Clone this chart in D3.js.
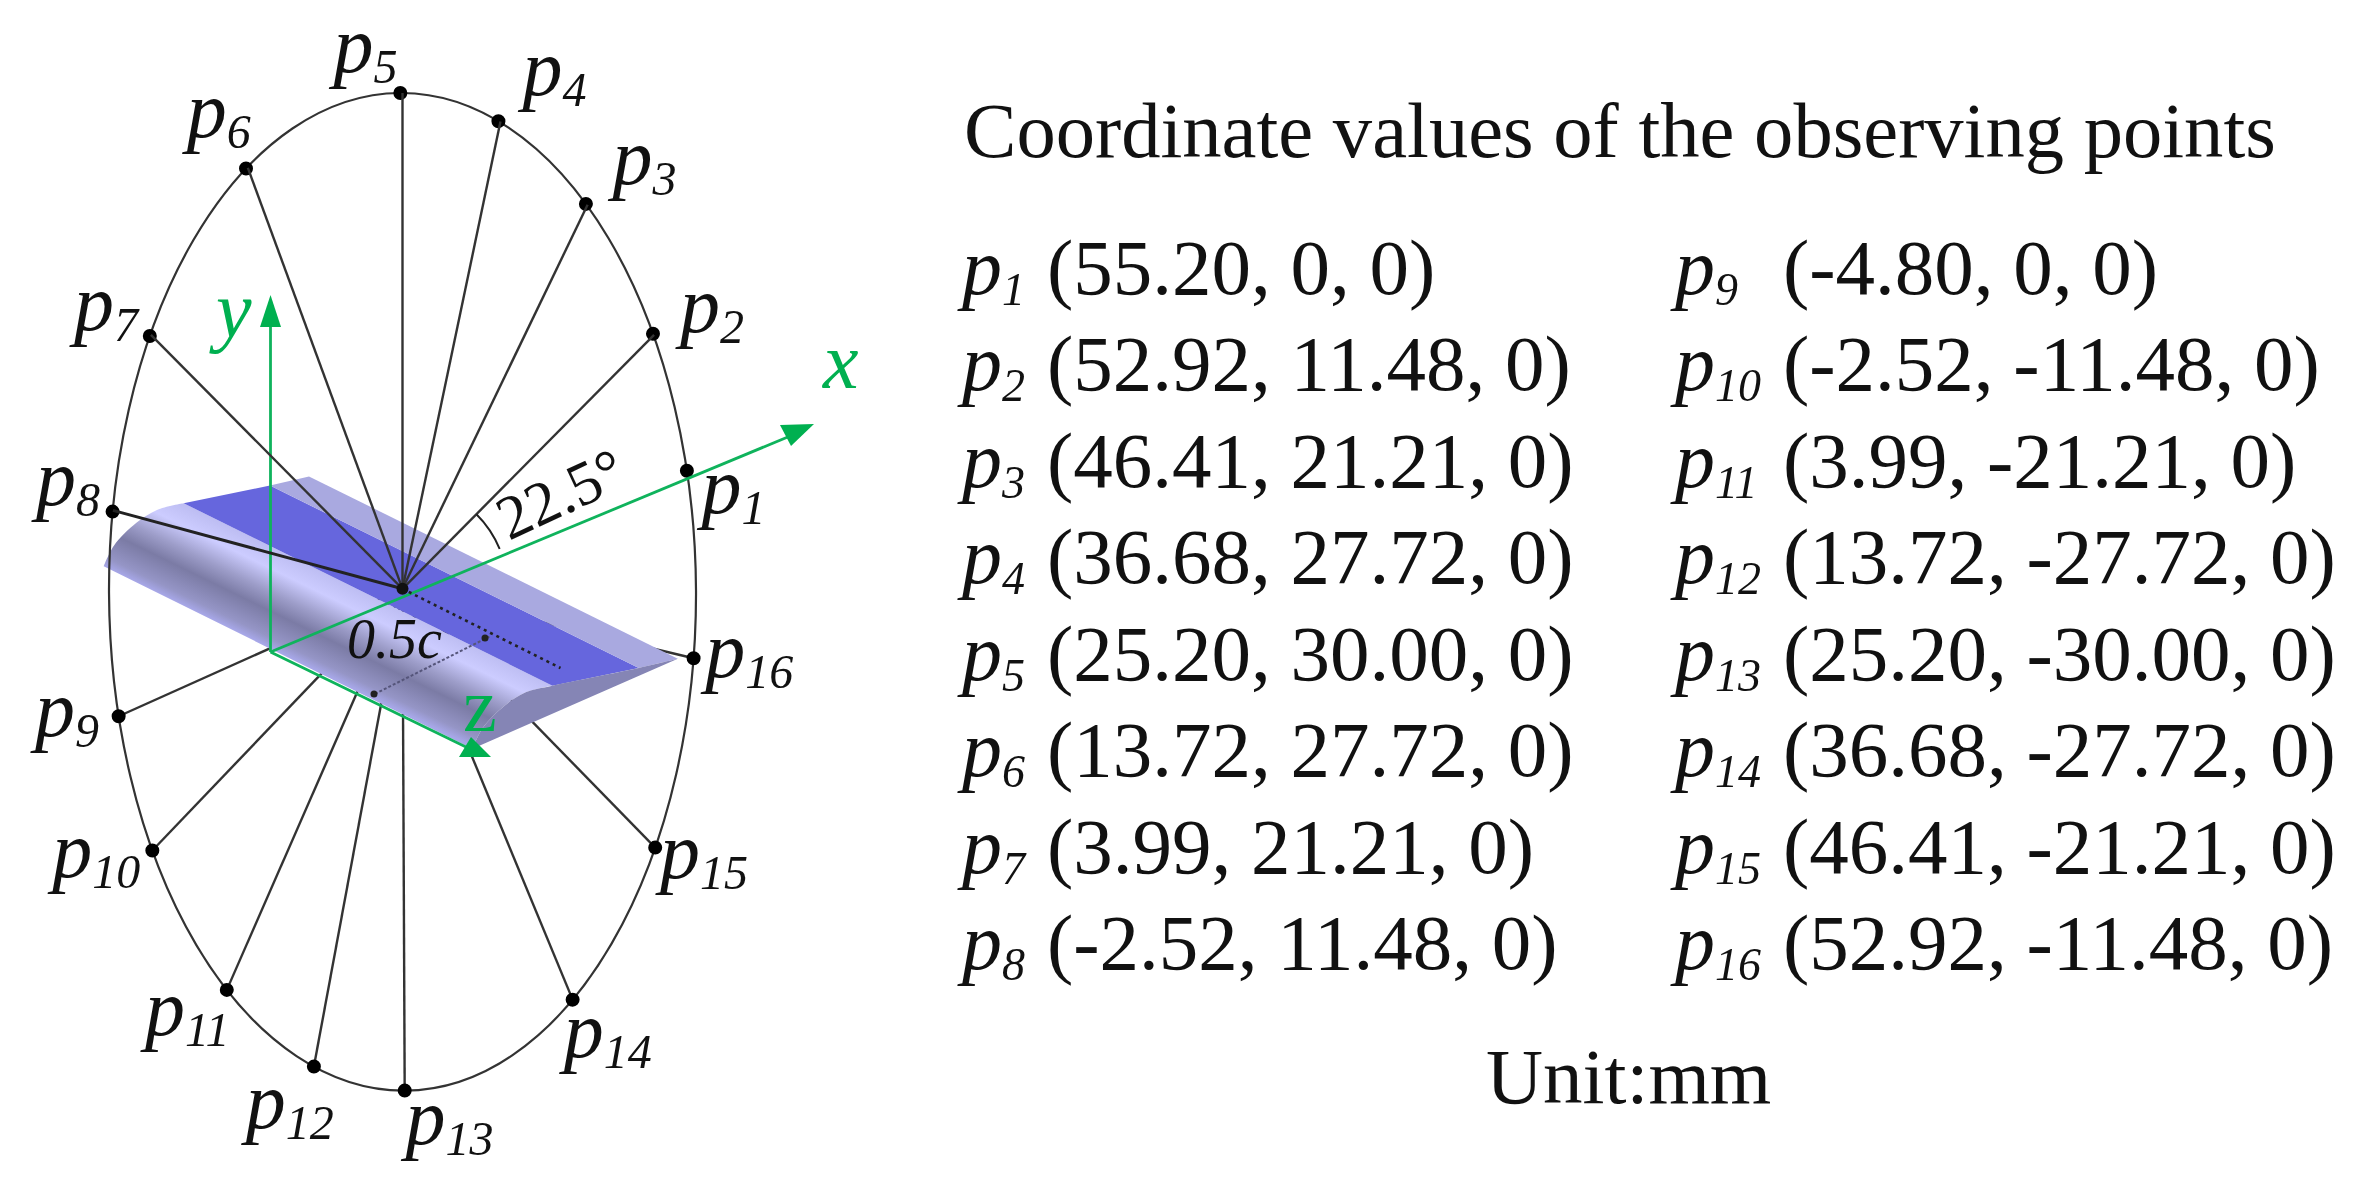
<!DOCTYPE html>
<html>
<head>
<meta charset="utf-8">
<title>Observing points</title>
<script src="https://d3js.org/d3.v7.min.js"></script>
<style>
body { margin:0; background:#fff; }
svg { display:block; filter:blur(0.7px); }
text { font-family:"Liberation Serif", serif; fill:#111; }
</style>
</head>
<body>
<script>
// observing points, table values (mm)
var pointNames = [1,2,3,4,5,6,7,8,9,10,11,12,13,14,15,16];
var pointX = [55.20,52.92,46.41,36.68,25.20,13.72,3.99,-2.52,-4.80,-2.52,3.99,13.72,25.20,36.68,46.41,52.92];
var pointY = [0,11.48,21.21,27.72,30.00,27.72,21.21,11.48,0,-11.48,-21.21,-27.72,-30.00,-27.72,-21.21,-11.48];
var pointZ = [0,0,0,0,0,0,0,0,0,0,0,0,0,0,0,0];

// where each point sits round the drawn ellipse, degrees
var pointAngle = [13.9,31,50.9,70.5,90,121.8,149,170.6,194.3,211.1,232.8,252,270,305,329,352.2];

// wing section: chord fraction and thickness (% chord)
var sectionChord = [0,0.05,0.16,0.26,0.39,0.81,1];
var sectionThick = [0,7.7,13.9,15.8,13.4,3.8,0];

var titleText = "Coordinate values of the observing points";
var unitText = "Unit:mm";

// label offsets from the point, px
var labelDx = [8,20,19,16,-75,-67,-83,-83,-89,-105,-86,-72,-3,-13,0,6];
var labelDy = [41,-3,-21,-27,-21.5,-31,-5,-5,21,28,46,62,53,57,29,18];

var W = 2371, H = 1187;
var svg = d3.select("body").append("svg").attr("width", W).attr("height", H);

var ex = d3.scaleLinear().domain([-1,1]).range([109,696]);
var ey = d3.scaleLinear().domain([-1,1]).range([1090.6,93]);
var rad = d3.scaleLinear().domain([0,360]).range([0,2*Math.PI]);
var centre = [ex(0), ey(0) - 3];

var points = pointNames.map(function(n,i){
  var a = rad(pointAngle[i]);
  return { n:n, i:i, x:ex(Math.cos(a)), y:ey(Math.sin(a)) };
});

// wing projection
var chordX = d3.scaleLinear().domain([0,1]).range([103.8,309.5]);
var chordY = d3.scaleLinear().domain([0,1]).range([565,476]);
var thick = d3.scaleLinear().domain([0,100]).range([0,209]);
var spanX = d3.scaleLinear().domain([0,1]).range([0,368]);
var spanY = d3.scaleLinear().domain([0,1]).range([0,184]);
function proj(c,t,z){ return [chordX(c)+spanX(z), chordY(c)-thick(t)+spanY(z)]; }
function sec(i,z){ return proj(sectionChord[i], sectionThick[i], z); }

var line = d3.line();
var curve = d3.line().curve(d3.curveCatmullRom);

var defs = svg.append("defs");
var lo = sec(0,0);
var grad = defs.append("linearGradient").attr("id","le")
  .attr("gradientUnits","userSpaceOnUse")
  .attr("x1",lo[0]).attr("y1",lo[1])
  .attr("x2",lo[0]+40.5).attr("y2",lo[1]-82);
[[0,"#a7a7e8"],[0.1,"#9595c6"],[0.36,"#7b7ba5"],[0.55,"#9d9dc9"],[0.78,"#ccccff"],[1,"#bdbdf2"]]
  .forEach(function(s){ grad.append("stop").attr("offset",s[0]).attr("stop-color",s[1]); });

var g = svg.append("g").attr("transform","rotate(-0.25,"+centre[0]+","+centre[1]+")");

// spokes behind the wing
var lowerPts = points.filter(function(d){ return d.n > 8; });
var upperPts = points.filter(function(d){ return d.n > 1 && d.n <= 8; });
g.selectAll(".low").data(lowerPts).enter().append("line")
  .attr("x1",centre[0]).attr("y1",centre[1])
  .attr("x2",function(d){return d.x;}).attr("y2",function(d){return d.y;})
  .attr("stroke","#333").attr("stroke-width",2.4);

// wing: leading edge, dark stripe, light stripe, end face
var leTop = d3.range(0,5).map(function(i){ return sec(i,0); });
var leBot = d3.range(4,-1,-1).map(function(i){ return sec(i,1); });
function arcPts(z,a,b){ return d3.range(a,b+1).map(function(i){ return sec(i,z); }); }
var lePath = curve(leTop).concat("L", curve(leBot).slice(1), "Z");
g.append("path").attr("d",lePath).attr("fill","url(#le)");
g.append("path").attr("d",line([sec(4,0),sec(5,0),sec(5,1),sec(4,1)])+"Z").attr("fill","#6666dd");
g.append("path").attr("d",line([sec(5,0),sec(6,0),sec(6,1),sec(5,1)])+"Z").attr("fill","#a9a9e0");
g.append("path").attr("d",curve(arcPts(1,0,6))+"Z").attr("fill","#8585b5");

// ellipse
g.append("ellipse").attr("cx",ex(0)).attr("cy",ey(0))
  .attr("rx",ex(1)-ex(0)).attr("ry",ey(-1)-ey(0))
  .attr("fill","none").attr("stroke","#333").attr("stroke-width",2.2);

// axes
var green = "#0fb35c";
var origin = [270.5,652];
var xTip = [814,424], yTip = [270.5,295], zEnd = [466,747];
var axes = svg.append("g");
[[origin,[795,434]],[origin,[270.5,325]],[origin,zEnd]].forEach(function(a){
  axes.append("path").attr("d",line(a)).attr("stroke",green).attr("stroke-width",2.8).attr("fill","none");
});
axes.append("path").attr("d",line([xTip,[780,425],[791,446]])+"Z").attr("fill","#00b050");
axes.append("path").attr("d",line([yTip,[260,327],[281,327]])+"Z").attr("fill","#00b050");
axes.append("path").attr("d",line([[471,737],[459,757],[491,757]])+"Z").attr("fill","#00b050");

// spokes over the wing
svg.selectAll(".up").data(upperPts).enter().append("line")
  .attr("x1",centre[0]).attr("y1",centre[1])
  .attr("x2",function(d){return d.x;}).attr("y2",function(d){return d.y;})
  .attr("stroke",function(d){return d.n==8 ? "#222" : "#333";})
  .attr("stroke-width",function(d){return d.n==8 ? 3 : 2.4;});

// chord marks
svg.append("path").attr("d",line([centre,[560.5,668]])).attr("stroke","#222").attr("stroke-width",2.6)
  .attr("stroke-dasharray","3 4").attr("fill","none");
svg.append("path").attr("d",line([[489.4,636.7],[372.7,695]])).attr("stroke","#55557a").attr("stroke-width",2)
  .attr("stroke-dasharray","3 2").attr("fill","none");
svg.append("circle").attr("cx",485).attr("cy",638).attr("r",3.5).attr("fill","#222");
svg.append("circle").attr("cx",374).attr("cy",694).attr("r",3.5).attr("fill","#222");
svg.append("circle").attr("cx",centre[0]).attr("cy",centre[1]).attr("r",6).attr("fill","#111");

// 22.5 degree arc between p2 spoke and x axis
var toAngle = function(p){ return Math.atan2(p[0]-centre[0], centre[1]-p[1]); };
var arc = d3.arc().innerRadius(105).outerRadius(105)
  .startAngle(toAngle([points[1].x,points[1].y])).endAngle(toAngle([points[0].x,points[0].y]));
svg.append("path").attr("transform","translate("+centre+")").attr("d",arc())
  .attr("fill","none").attr("stroke","#222").attr("stroke-width",2);

// dots
g.selectAll(".dot").data(points).enter().append("circle")
  .attr("cx",function(d){return d.x;}).attr("cy",function(d){return d.y;}).attr("r",7).attr("fill","#000");

// point labels
var labels = svg.selectAll(".lab").data(points).enter().append("text")
  .attr("x",function(d){return d.x+labelDx[d.i]+6;})
  .attr("y",function(d){return d.y+labelDy[d.i];})
  .attr("font-size",80).attr("font-style","italic").text("p");
labels.append("tspan").attr("dy",11).attr("font-size",48).text(function(d){return d.n;});

// axis names and marks
function label(txt,x,y,size,col,style){
  return svg.append("text").attr("x",x).attr("y",y).attr("font-size",size)
    .attr("font-style",style||"italic").style("fill",col||"#111").text(txt);
}
label("x",823,388,80,"#00b050");
label("y",216,337,80,"#00b050");
label("z",463,731,76,"#00b050","normal");
label("0.5c",347,658,56);
label("22.5°",509,541,62,"#111","normal").attr("transform","rotate(-25,509,541)");

// table
label(titleText,964,157,78.6,"#111","normal");
var fmt = function(v){ return v===0 ? "0" : v.toFixed(2); };
var rowY = d3.scaleLinear().domain([0,7]).range([294,969]);
var colX = d3.scaleOrdinal().domain([0,1]).range([962,1675]);
var valX = d3.scaleOrdinal().domain([0,1]).range([1047,1783]);
pointNames.forEach(function(n,i){
  var col = i<8 ? 0 : 1, row = i%8;
  var t = label("p",colX(col),rowY(row),80);
  t.append("tspan").attr("dy",11).attr("font-size",46).text(n);
  label("("+fmt(pointX[i])+", "+fmt(pointY[i])+", "+fmt(pointZ[i])+")",valX(col),rowY(row),79,"#111","normal");
});
label(unitText,1486,1103,79,"#111","normal");
</script>
</body>
</html>
